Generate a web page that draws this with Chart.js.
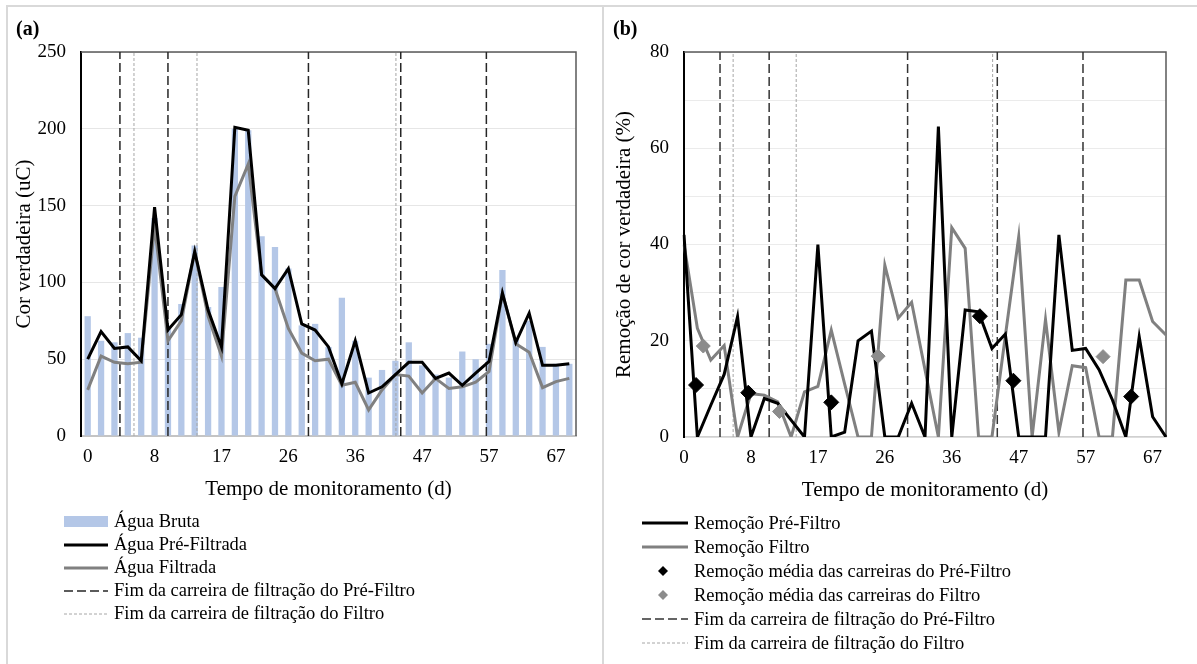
<!DOCTYPE html>
<html>
<head>
<meta charset="utf-8">
<script src="https://cdn.jsdelivr.net/npm/chart.js@4/dist/chart.umd.min.js"></script>
<style>
  body { margin: 0; background: #fff; font-family: 'Liberation Serif', 'Times New Roman', serif; }
  .panel { position: absolute; top: 5px; height: 657px; border-top: 2px solid #d9d9d9; border-left: 2px solid #d9d9d9; }
  #panelA { left: 6px; width: 594px; }
  #panelB { left: 602px; width: 593px; }
  .tag { position: absolute; top: 9px; font-weight: bold; font-size: 20px; line-height: 24px; }
  .legend { position: absolute; list-style: none; margin: 0; padding: 0; font-size: 18.5px; color: #000; }
  .legend li { display: flex; align-items: center; white-space: nowrap; }
  .legend canvas { margin-right: 6px; }
  #legendA { left: 56px; top: 503px; }
  #legendA li { height: 23px; }
  #legendB { left: 38px; top: 504px; }
  #legendB li { height: 24px; }
</style>
</head>
<body>
<div class="panel" id="panelA">
  <canvas id="chartA" width="594" height="657"></canvas>
  <div class="tag" style="left:8px">(a)</div>
  <ul class="legend" id="legendA"></ul>
</div>
<div class="panel" id="panelB">
  <canvas id="chartB" width="593" height="657"></canvas>
  <div class="tag" style="left:9px">(b)</div>
  <ul class="legend" id="legendB"></ul>
</div>
<script>
// dias de monitoramento (so um a cada 5 aparece no eixo)
const days = [0, 2, 3, 5, 6, 8, 10, 12, 13, 15, 17, 19, 21, 22, 24, 26, 28, 30, 32, 34,
              36, 38, 40, 42, 45, 47, 49, 51, 53, 55, 57, 59, 61, 63, 65, 67, 69];

// (a) cor verdadeira (uC)
const aguaBruta = [78, 62, 61, 67, 64, 142, 72, 86, 124, 84, 97, 200, 199, 130, 123, 109, 72, 73, 58, 90,
                   62, 38, 43, 49, 61, 46, 40, 38, 55, 50, 60, 108, 63, 75, 58, 47, 47];
const aguaPreFiltrada = [50, 68, 57, 58, 49, 149, 69, 79, 120, 82, 58, 201, 199, 105, 96, 109, 73, 69, 58, 34,
                         62, 28, 32, 40, 48, 48, 37.5, 41, 33, 41, 48.5, 93, 61, 80, 46, 46, 47];
const aguaFiltrada = [30, 52, 48, 47, 48, 137, 62, 75, 120, 78, 52, 156, 177, 105, 96, 70, 54, 49, 50, 33,
                      35, 17, 30, 40, 39, 28, 37.5, 31, 32, 35, 42, 93, 60, 54.5, 31.5, 35.4, 37.5];
// fim das carreiras, em posicao de categoria
const fimPreFiltroA = [2.41, 6.0, 16.5, 23.4, 29.8];
const fimFiltroA = [3.46, 8.17, 23.04];
const yTicksA = [0, 50, 100, 150, 200, 250];

// (b) remocao de cor verdadeira (%)
const remocaoPreFiltro = [42, 0, 6.6, 13, 25, 0, 8, 7, 3.5, 0, 40, 0, 1, 20, 22, 0, 0, 7, 0, 64.5,
                          0, 26.4, 26, 18.4, 21.4, 0, 0, 0, 42, 18, 18.4, 14, 7.7, 0, 20.8, 4.2, 0];
const remocaoFiltro = [40, 22.6, 16, 19, 0, 9, 8.7, 7.3, 0, 9.4, 10.5, 22.2, 11, 0, 0, 35.7, 24.7, 28, 14, 0,
                       43.5, 39.2, 0, 0, 21, 41.6, 0, 24.4, 1, 14.8, 14.4, 0, 0, 32.6, 32.6, 24, 21.2];
const mediaPreX = [0.9, 4.8, 11.0, 22.1, 24.6, 33.4];
const mediaPreY = [10.8, 9.2, 7.2, 25.1, 11.7, 8.4];
const mediaFiltroX = [1.44, 7.13, 14.5, 31.3];
const mediaFiltroY = [18.9, 5.3, 16.8, 16.7];
const fimPreFiltroB = [2.69, 6.36, 16.7, 23.4, 29.8];
const fimFiltroB = [3.67, 8.38, 23.05];
const yTicksB = [0, 20, 40, 60, 80];

Chart.defaults.font.family = "'Liberation Serif', 'Times New Roman', serif";
Chart.defaults.color = '#000';

function vlines(xs, top) {
  const pts = [];
  xs.forEach(x => { pts.push({x: x, y: 0}, {x: x, y: top}, {x: x, y: null}); });
  return pts;
}

const plotFrame = {
  id: 'plotFrame',
  beforeDatasetsDraw(chart, args, opts) {
    const {ctx, chartArea: a} = chart;
    ctx.save();
    ctx.strokeStyle = opts.color;
    ctx.lineWidth = opts.width;
    ctx.beginPath();
    ctx.moveTo(a.left, a.top);
    ctx.lineTo(a.right, a.top);
    ctx.lineTo(a.right, a.bottom);
    ctx.stroke();
    ctx.restore();
  }
};

const htmlLegend = {
  id: 'htmlLegend',
  afterUpdate(chart, args, opts) {
    const ul = document.getElementById(opts.containerID);
    ul.innerHTML = '';
    chart.data.datasets.forEach(ds => {
      const li = document.createElement('li');
      const sw = document.createElement('canvas');
      sw.width = opts.boxWidth;
      sw.height = 16;
      const c = sw.getContext('2d');
      const isBar = ds.type === 'bar' || (!ds.type && chart.config.type === 'bar');
      if (isBar) {
        c.fillStyle = ds.backgroundColor;
        c.fillRect(0, 2, opts.boxWidth, 11);
      } else if (ds.showLine === false) {
        c.fillStyle = ds.backgroundColor;
        const cx = opts.boxWidth / 2 - 2, cy = 8, r = 5;
        c.beginPath();
        c.moveTo(cx - r, cy); c.lineTo(cx, cy - r); c.lineTo(cx + r, cy); c.lineTo(cx, cy + r);
        c.closePath();
        c.fill();
      } else {
        c.strokeStyle = ds.borderColor;
        c.lineWidth = ds.borderWidth;
        c.setLineDash(ds.borderDash || []);
        c.beginPath();
        c.moveTo(0, 8);
        c.lineTo(opts.boxWidth, 8);
        c.stroke();
      }
      li.appendChild(sw);
      li.appendChild(document.createTextNode(ds.label));
      ul.appendChild(li);
    });
  }
};

new Chart(document.getElementById('chartA'), {
  type: 'bar',
  data: {
    labels: days,
    datasets: [
      { label: 'Água Bruta', data: aguaBruta, backgroundColor: '#b4c7e7', grouped: false,
        categoryPercentage: 1, barPercentage: 0.47, order: 5 },
      { type: 'line', label: 'Água Pré-Filtrada', data: aguaPreFiltrada, borderColor: '#000',
        borderWidth: 3, pointRadius: 0, order: 1 },
      { type: 'line', label: 'Água Filtrada', data: aguaFiltrada, borderColor: '#808080',
        borderWidth: 3, pointRadius: 0, order: 2 },
      { type: 'line', label: 'Fim da carreira de filtração do Pré-Filtro', xAxisID: 'xv',
        data: vlines(fimPreFiltroA, yTicksA[yTicksA.length - 1]),
        borderColor: '#262626', borderWidth: 1.5, borderDash: [9, 4], pointRadius: 0, order: 3 },
      { type: 'line', label: 'Fim da carreira de filtração do Filtro', xAxisID: 'xv',
        data: vlines(fimFiltroA, yTicksA[yTicksA.length - 1]),
        borderColor: '#a6a6a6', borderWidth: 1, borderDash: [3, 2], pointRadius: 0, order: 4 }
    ]
  },
  options: {
    responsive: false,
    animation: false,
    events: [],
    layout: { padding: { top: 45, right: 26, bottom: 148, left: 0 } },
    plugins: {
      legend: { display: false },
      tooltip: { enabled: false },
      htmlLegend: { containerID: 'legendA', boxWidth: 44 },
      plotFrame: { color: '#595959', width: 1.5 }
    },
    scales: {
      x: {
        grid: { display: false, drawTicks: false },
        border: { color: '#c4c4c4', width: 2 },
        ticks: { autoSkip: false, maxRotation: 0, padding: 10, font: { size: 19 },
                 callback: (v, i) => i % 5 === 0 ? days[i] : '' },
        title: { display: true, text: 'Tempo de monitoramento (d)', font: { size: 21 },
                 padding: { top: 0, bottom: 14 } },
        afterFit: s => { s.height = 80; }
      },
      xv: { type: 'linear', display: false, offset: false, min: -0.5, max: days.length - 0.5 },
      y: {
        min: yTicksA[0], max: yTicksA[yTicksA.length - 1],
        ticks: { stepSize: 50, padding: 15, font: { size: 19 } },
        grid: { color: '#e6e6e6', drawTicks: false },
        border: { color: '#000', width: 2 },
        title: { display: true, text: 'Cor verdadeira (uC)', font: { size: 21 },
                 padding: { top: 4, bottom: 0 } },
        afterFit: s => { s.width = 73; }
      }
    }
  },
  plugins: [plotFrame, htmlLegend]
});

new Chart(document.getElementById('chartB'), {
  type: 'line',
  data: {
    labels: days,
    datasets: [
      { label: 'Remoção Pré-Filtro', data: remocaoPreFiltro, borderColor: '#000',
        borderWidth: 3, pointRadius: 0, order: 1 },
      { label: 'Remoção Filtro', data: remocaoFiltro, borderColor: '#808080',
        borderWidth: 3, pointRadius: 0, order: 2 },
      { label: 'Remoção média das carreiras do Pré-Filtro', xAxisID: 'xv', showLine: false,
        data: mediaPreX.map((x, i) => ({x: x, y: mediaPreY[i]})),
        pointStyle: 'rectRot', pointRadius: 7.5, backgroundColor: '#000', borderColor: '#000', order: 0 },
      { label: 'Remoção média das carreiras do Filtro', xAxisID: 'xv', showLine: false,
        data: mediaFiltroX.map((x, i) => ({x: x, y: mediaFiltroY[i]})),
        pointStyle: 'rectRot', pointRadius: 7, backgroundColor: '#8c8c8c', borderColor: '#8c8c8c', order: 0 },
      { label: 'Fim da carreira de filtração do Pré-Filtro', xAxisID: 'xv',
        data: vlines(fimPreFiltroB, yTicksB[yTicksB.length - 1]),
        borderColor: '#333', borderWidth: 1.5, borderDash: [9, 4], pointRadius: 0, order: 3 },
      { label: 'Fim da carreira de filtração do Filtro', xAxisID: 'xv',
        data: vlines(fimFiltroB, yTicksB[yTicksB.length - 1]),
        borderColor: '#a6a6a6', borderWidth: 1, borderDash: [3, 2], pointRadius: 0, order: 4 }
    ]
  },
  options: {
    responsive: false,
    animation: false,
    events: [],
    layout: { padding: { top: 45, right: 31, bottom: 147, left: 0 } },
    plugins: {
      legend: { display: false },
      tooltip: { enabled: false },
      htmlLegend: { containerID: 'legendB', boxWidth: 46 },
      plotFrame: { color: '#595959', width: 1.5 }
    },
    scales: {
      x: {
        offset: false,
        grid: { display: false, drawTicks: false },
        border: { color: '#d0d0d0', width: 1.5 },
        ticks: { autoSkip: false, maxRotation: 0, padding: 10, font: { size: 19 },
                 callback: (v, i) => i % 5 === 0 ? days[i] : '' },
        title: { display: true, text: 'Tempo de monitoramento (d)', font: { size: 21 },
                 padding: { top: 0, bottom: 14 } },
        afterFit: s => { s.height = 80; }
      },
      xv: { type: 'linear', display: false, offset: false, min: 0, max: days.length - 1 },
      y: {
        min: yTicksB[0], max: yTicksB[yTicksB.length - 1],
        ticks: { stepSize: 5, padding: 15, font: { size: 19 },
                 callback: v => yTicksB.includes(v) ? v : '' },
        grid: { color: '#ebebeb', drawTicks: false },
        border: { color: '#000', width: 2 },
        title: { display: true, text: 'Remoção de cor verdadeira (%)', font: { size: 21 },
                 padding: { top: 8, bottom: 0 } },
        afterFit: s => { s.width = 80; }
      }
    }
  },
  plugins: [plotFrame, htmlLegend]
});
</script>
</body>
</html>
